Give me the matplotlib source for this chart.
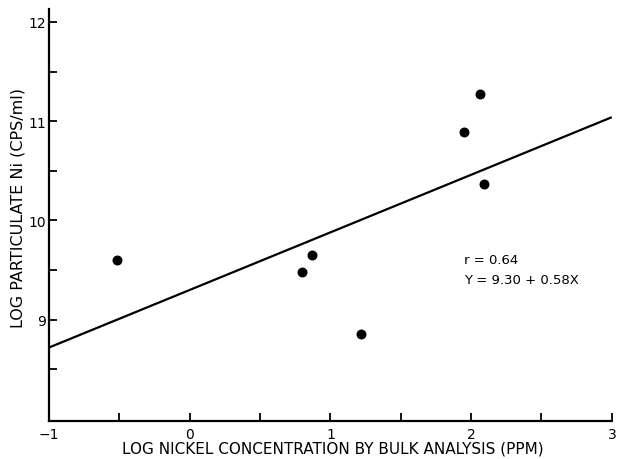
import numpy as np
import matplotlib
matplotlib.use("Agg")
import matplotlib.pyplot as plt

# data
bulk_log = [-0.52, 0.80, 0.87, 1.22, 1.95, 2.06, 2.09]
part_log = [9.60, 9.48, 9.65, 8.86, 10.89, 11.27, 10.37]

# regression line given on the plot
intercept = 9.30
slope = 0.58
fit_x = np.array([-1.0, 3.0])

x_major = [-1, 0, 1, 2, 3]
x_minor = [-0.5, 0.5, 1.5, 2.5]
y_major = [9, 10, 11, 12]
y_minor = [8.5, 9.5, 10.5, 11.5]

plt.rcParams['font.family'] = ['DejaVu Sans']

fig = plt.figure(figsize=(6.18, 4.60), dpi=100)
ax = fig.add_axes([0.0793, 0.0826, 0.9107, 0.8957])

ax.plot(fit_x, intercept + slope * fit_x, color='black', lw=1.6, solid_capstyle='butt')
ax.scatter(bulk_log, part_log, s=38, color='black', zorder=3)

ax.text(1.95, 9.61, "r = 0.64", fontsize=9.5, va='center', ha='left')
ax.text(1.95, 9.41, "Y = 9.30 + 0.58X", fontsize=9.5, va='center', ha='left')

ax.set_xlim(-1, 3)
ax.set_ylim(7.98, 12.13)
ax.set_xticks(x_major)
ax.set_xticks(x_minor, minor=True)
ax.set_yticks(y_major)
ax.set_yticks(y_minor, minor=True)
ax.tick_params(which='both', direction='in', length=6, width=1.3, labelsize=10)
ax.tick_params(axis='y', pad=2)
ax.tick_params(axis='x', pad=4)

for s in ['top', 'right']:
    ax.spines[s].set_visible(False)
for s in ['left', 'bottom']:
    ax.spines[s].set_linewidth(1.6)

ax.set_xlabel("LOG NICKEL CONCENTRATION BY BULK ANALYSIS (PPM)", fontsize=11, va='center')
ax.set_ylabel("LOG PARTICULATE Ni (CPS/ml)", fontsize=11.5, va='center')
ax.xaxis.set_label_coords(0.505, -0.066)
ax.yaxis.set_label_coords(-0.055, 0.52)

fig.savefig("out.png", dpi=100)
